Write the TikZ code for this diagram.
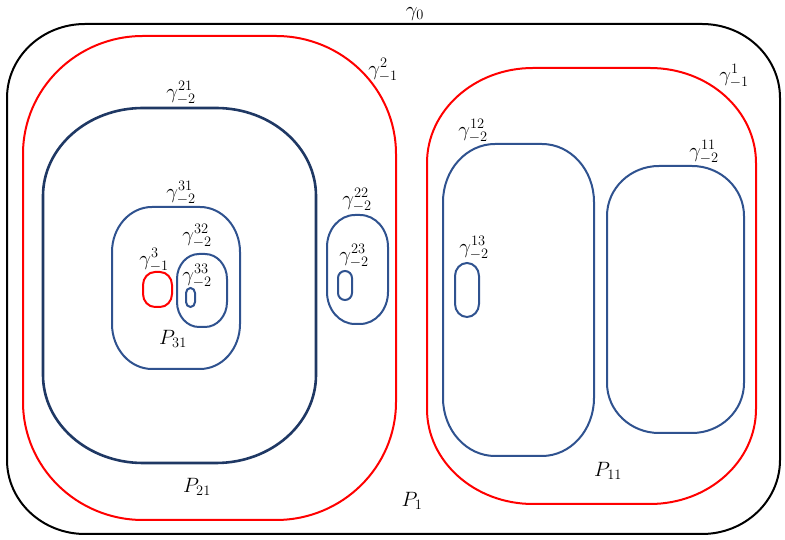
\documentclass[tikz,border=0pt]{standalone}
\definecolor{ored}{RGB}{255,0,0}
\definecolor{oblue}{RGB}{47,82,143}
\definecolor{onavy}{RGB}{31,56,100}
% rounded box: [style]{x1}{ytop}{x2}{ybottom}{rx}{ry}  (pixel coords, y downwards)
\newcommand{\rbox}[7][]{%
  \draw[#1] ({#2+#6},{540-#3}) -- ({#4-#6},{540-#3})
    arc[start angle=90,end angle=0,x radius=#6,y radius=#7]
    -- ({#4},{540-#5+#7})
    arc[start angle=0,end angle=-90,x radius=#6,y radius=#7]
    -- ({#2+#6},{540-#5})
    arc[start angle=270,end angle=180,x radius=#6,y radius=#7]
    -- ({#2},{540-#3-#7})
    arc[start angle=180,end angle=90,x radius=#6,y radius=#7] -- cycle;}
% gamma with stacked indices, subscript pushed slightly down
\newcommand{\gml}[2]{\gamma^{#1}_{\vphantom{(}#2}}
\begin{document}
\begin{tikzpicture}[x=1pt,y=1pt,
  blk/.style={draw=black,line width=2pt},
  rd/.style={draw=ored,line width=2pt},
  bl/.style={draw=oblue,line width=2pt},
  nv/.style={draw=onavy,line width=2.6pt},
  lab/.style={inner sep=0pt,font=\fontsize{20.74}{24}\selectfont}]
\useasboundingbox (0,0) rectangle (785,540);
% outer
\rbox[blk]{7}{24}{780}{534}{78}{74}
% red regions
\rbox[rd]{23}{36}{396}{520}{120}{118}
\rbox[rd]{427}{68}{756}{504}{106}{95}
% left group
\rbox[nv]{43}{108}{316}{463}{100}{88}
\rbox[bl]{112}{207}{240}{369}{40}{45}
\rbox[bl]{177}{254}{227}{327}{22}{25}
\rbox[bl]{186}{288}{195}{307}{4.5}{5}
\rbox[rd]{143}{272}{172}{307}{12}{13}
\rbox[bl]{327}{215}{388}{324}{28}{32}
\rbox[bl]{338}{271}{352}{300}{7}{7}
% right group
\rbox[bl]{443}{144}{594}{456}{52}{58}
\rbox[bl]{455}{263}{479}{317}{12}{13}
\rbox[bl]{607}{166}{744}{433}{52}{50}
% labels
\node[lab] (g0)  at (415,{540-14}) {$\gamma_0$};
\node[lab] (g2)  at (383,{540-71}) {$\gml{2}{-1}$};
\node[lab] (g1)  at (734,{540-77}) {$\gml{1}{-1}$};
\node[lab] (g21) at (181,{540-94}) {$\gml{21}{-2}$};
\node[lab] (g31) at (181,{540-194}) {$\gml{31}{-2}$};
\node[lab] (g3)  at (154,{540-261}) {$\gml{3}{-1}$};
\node[lab] (g32) at (197,{540-237}) {$\gml{32}{-2}$};
\node[lab] (g33) at (197,{540-277}) {$\gml{33}{-2}$};
\node[lab] (p31) at (173,{540-339}) {$P_{31}$};
\node[lab] (g22) at (357,{540-201}) {$\gml{22}{-2}$};
\node[lab] (g23) at (354,{540-257}) {$\gml{23}{-2}$};
\node[lab] (g12) at (473,{540-132}) {$\gml{12}{-2}$};
\node[lab] (g13) at (474,{540-249}) {$\gml{13}{-2}$};
\node[lab] (g11) at (704,{540-153}) {$\gml{11}{-2}$};
\node[lab] (p21) at (197,{540-487}) {$P_{21}$};
\node[lab] (p1)  at (412,{540-501}) {$P_{1}$};
\node[lab] (p11) at (608,{540-471}) {$P_{11}$};
\end{tikzpicture}
\end{document}
